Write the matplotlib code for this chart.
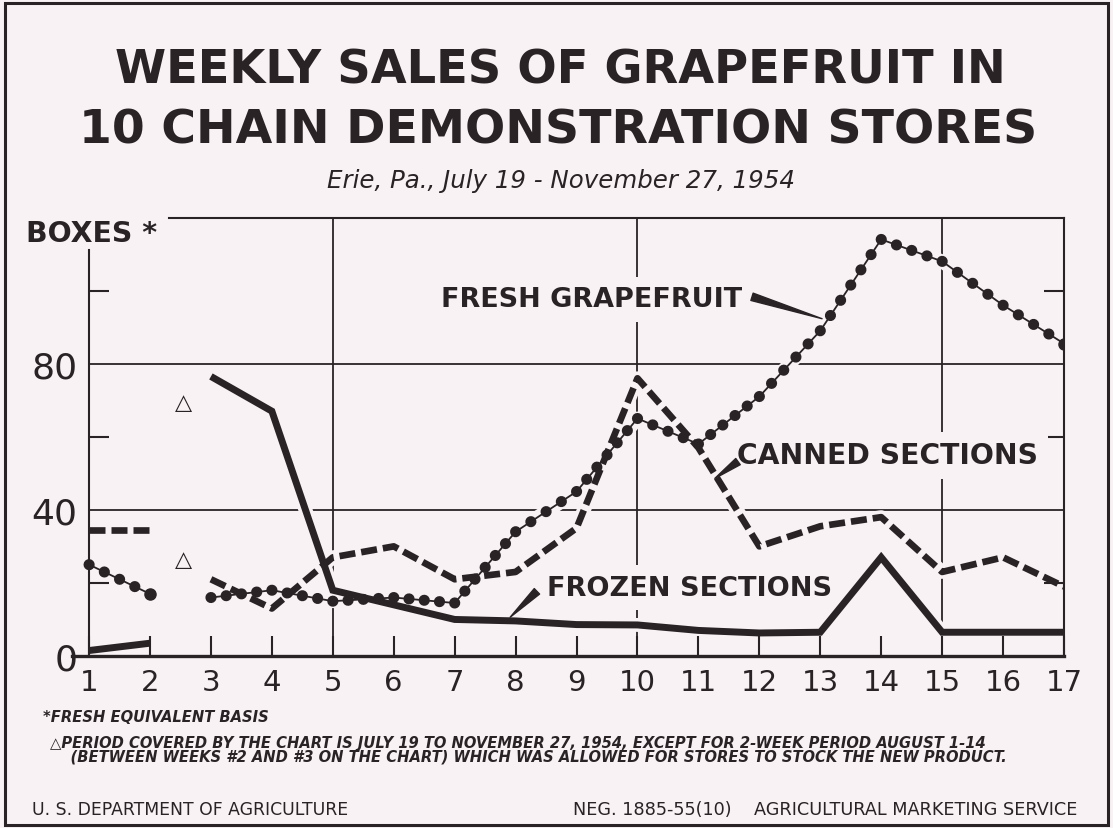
import matplotlib
matplotlib.use('Agg')
import numpy as np
import matplotlib.pyplot as plt
from matplotlib.patches import FancyArrowPatch, Rectangle

W, H = 1113, 829
BG = '#f8f2f5'
INK = '#2a2326'

# weekly sales, boxes (fresh equivalent); weeks 1-2, then 3-17 after the stocking gap
weeks_a = [1, 2]
weeks_b = [3, 4, 5, 6, 7, 8, 9, 10, 11, 12, 13, 14, 15, 16, 17]
fresh_a = [25, 17]
fresh_b = [16, 18, 15, 16, 14.5, 34, 45, 65, 58, 71, 89, 114, 108, 96, 85.5]
canned_a = [34.5, 34.5]
canned_b = [21, 13, 27, 30, 21, 23, 35, 76, 57, 30, 35.5, 38, 23, 27, 19]
frozen_a = [1.5, 3.5]
frozen_b = [76.5, 67, 18, 14, 10, 9.6, 8.6, 8.5, 7, 6.3, 6.5, 27, 6.5, 6.5, 6.5]

# footnote markers for the gap between weeks 2 and 3
gap_x = [2.55, 2.55]
gap_y = [69.5, 26.5]

xticks = list(range(1, 18))
yticks_major = [0, 40, 80]
yticks_minor = [20, 60, 100]

plt.rcParams['font.family'] = 'DejaVu Sans'
fig = plt.figure(figsize=(W / 100, H / 100), dpi=100, facecolor=BG)
renderer = fig.canvas.get_renderer()

# axes: x from 0.72 so the base line runs a little left of week 1
ax = fig.add_axes([72 / W, (H - 657) / H, 992 / W, (657 - 218.5) / H])
ax.set_facecolor(BG)
ax.set_xlim(0.72, 17)
ax.set_ylim(0, 120)

for s in ax.spines.values():
    s.set_color(INK)
    s.set_linewidth(1.5)
ax.spines['bottom'].set_linewidth(2.4)
ax.spines['left'].set_position(('data', 1))
ax.spines['left'].set_bounds(0, 111)
ax.spines['top'].set_bounds(2.31, 17)

ax.set_xticks(xticks)
ax.set_xticklabels([str(w) for w in xticks])
ax.set_yticks(yticks_major)
ax.set_yticklabels([str(v) for v in yticks_major])
ax.set_yticks(yticks_minor, minor=True)
ax.tick_params(axis='x', direction='in', length=14.5, width=1.5, color=INK,
               labelsize=21, labelcolor=INK, pad=9)
ax.tick_params(axis='y', which='major', length=0, labelsize=26, labelcolor=INK, pad=8.5)
ax.tick_params(axis='y', which='minor', direction='in', length=14.5, width=1.5,
               color=INK, left=True, right=True)

# grid
ax.vlines([5, 10, 15], 0, 120, color=INK, lw=1.3, zorder=1)
ax.hlines([40, 80], 1, 17, color=INK, lw=1.3, zorder=1)


def beads(wk, vals, lw=8.0, step=17):
    # chain of beads: one dotted run per week so a bead sits on every weekly value
    pts = ax.transData.transform(np.column_stack([wk, vals]))
    for i in range(len(wk) - 1):
        seg = np.hypot(*(pts[i + 1] - pts[i]))
        n = max(1, int(round(seg / step)))
        period = seg / n * 0.72
        ax.plot(wk[i:i + 2], vals[i:i + 2], color=INK, lw=lw,
                linestyle=(0, (0.01, period / lw - 0.01)), dash_capstyle='round', zorder=3.1)
    ax.plot(wk[-1:], vals[-1:], 'o', color=INK, ms=lw, zorder=3.1)


runs = [(weeks_a, fresh_a, canned_a, frozen_a), (weeks_b, fresh_b, canned_b, frozen_b)]
for wk, f, c, z in runs:
    # light halo to break the grid lines under the curves
    for v in (f, c, z):
        ax.plot(wk, v, color=BG, lw=10, zorder=1.2, solid_capstyle='butt')

for wk, f, c, z in runs:
    ax.plot(wk, z, color=INK, lw=5, solid_joinstyle='miter', solid_capstyle='butt', zorder=3)
    ax.plot(wk, c, color=INK, lw=4.8, linestyle=(0, (2.4, 0.9)), dash_capstyle='butt', zorder=3)
    ax.plot(wk, f, color=INK, lw=1.3, zorder=3)
    beads(wk, f)

for gx, gy in zip(gap_x, gap_y):
    ax.text(gx, gy, '\u25b3', ha='center', va='center', fontsize=16, color=INK)


def fit(t, width):
    w = t.get_window_extent(renderer).width
    t.set_fontsize(t.get_fontsize() * width / w)
    return t


def ftext(x, y, s, width=None, ha='left', **kw):
    t = fig.text(x / W, 1 - y / H, s, ha=ha, va='baseline', color=INK, **kw)
    return fit(t, width) if width else t


# series labels with pointers
lab = dict(ha='center', va='baseline', color=INK, fontweight='bold', fontsize=16,
           bbox=dict(boxstyle='square,pad=0.35', fc=BG, ec='none'), zorder=2)
fit(ax.text(9.25, 95.7, 'FRESH GRAPEFRUIT', **lab), 300)
fit(ax.text(14.11, 52.7, 'CANNED SECTIONS', **lab), 300)
fit(ax.text(10.85, 16.7, 'FROZEN SECTIONS', **lab), 285)

for tail, head in [((11.88, 98.3), (13.03, 92.3)),
                   ((11.65, 53.2), (11.27, 48.6)),
                   ((8.35, 17.7), (7.91, 10.6))]:
    ax.add_patch(FancyArrowPatch(tail, head, arrowstyle='wedge,tail_width=0.55,shrink_factor=0.5',
                                 mutation_scale=10, color=INK, shrinkA=0, shrinkB=0, zorder=3))

# titles
ftext(560, 83, 'WEEKLY SALES OF GRAPEFRUIT IN', 894, ha='center', fontweight='bold', fontsize=34)
ftext(558, 143, '10 CHAIN DEMONSTRATION STORES', 960, ha='center', fontweight='bold', fontsize=34)
ftext(561, 188, 'Erie, Pa., July 19 - November 27, 1954', 468, ha='center',
      fontstyle='italic', fontsize=15)
ftext(26, 242, 'BOXES *', 131, fontweight='bold', fontsize=20)

# footnotes
note = dict(fontstyle='italic', fontweight='bold', fontsize=10.6)
ftext(43, 722, '*FRESH EQUIVALENT BASIS', **note)
ftext(50, 762, '\u25b3PERIOD COVERED BY THE CHART IS JULY 19 TO NOVEMBER 27, 1954, '
      'EXCEPT FOR 2-WEEK PERIOD AUGUST 1-14\n'
      '    (BETWEEN WEEKS #2 AND #3 ON THE CHART) WHICH WAS ALLOWED FOR STORES '
      'TO STOCK THE NEW PRODUCT.', linespacing=0.9, **note)
ftext(32, 815, 'U. S. DEPARTMENT OF AGRICULTURE', 316, fontsize=9)
ftext(1077, 815, 'NEG. 1885-55(10)    AGRICULTURAL MARKETING SERVICE', 504, ha='right', fontsize=9)

fig.add_artist(Rectangle((5 / W, 3 / H), 1103 / W, 822 / H, transform=fig.transFigure,
                         fill=False, ec=INK, lw=2.2))

fig.savefig('out.png', dpi=100, facecolor=BG)
